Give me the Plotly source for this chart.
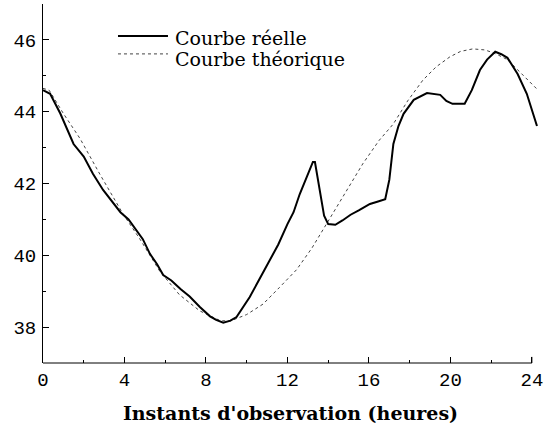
import plotly.graph_objects as go

# Observation times (hours) and measured values
real_hours = [0.0, 0.35, 0.85, 1.2, 1.5, 2.0, 2.45, 2.95, 3.4, 3.8, 4.2, 4.6, 4.9, 5.25,
              5.6, 5.9, 6.3, 6.75, 7.2, 7.7, 8.2, 8.5, 8.85, 9.2, 9.5, 10.15, 10.6, 11.15,
              11.55, 12.0, 12.3, 12.6, 12.95, 13.25, 13.35, 13.6, 13.8, 14.0, 14.35, 14.7,
              15.1, 15.5, 16.05, 16.45, 16.8, 17.0, 17.2, 17.45, 17.7, 18.2, 18.85, 19.5,
              19.8, 20.1, 20.7, 21.05, 21.45, 21.8, 22.2, 22.5, 22.8, 23.3, 23.75, 24.25]
real_values = [44.6, 44.5, 43.95, 43.5, 43.1, 42.75, 42.27, 41.82, 41.5, 41.2, 41.0, 40.7,
               40.45, 40.04, 39.75, 39.45, 39.3, 39.06, 38.85, 38.56, 38.3, 38.2, 38.12,
               38.18, 38.28, 38.84, 39.3, 39.87, 40.3, 40.87, 41.2, 41.7, 42.2, 42.6, 42.6,
               41.7, 41.1, 40.87, 40.85, 40.97, 41.13, 41.25, 41.43, 41.5, 41.56, 42.1, 43.1,
               43.6, 43.94, 44.33, 44.52, 44.47, 44.3, 44.22, 44.22, 44.6, 45.16, 45.45,
               45.67, 45.6, 45.5, 45.05, 44.5, 43.6]

# Theoretical curve
theo_hours = [0.0, 0.3, 1.0, 1.82, 2.8, 3.93, 4.76, 5.74, 6.7, 7.7, 8.7, 9.2, 10.0, 10.8,
              11.6, 12.45, 13.2, 13.9, 14.8, 15.7, 16.5, 17.2, 17.9, 18.65, 19.3, 19.98,
              20.5, 21.1, 21.7, 22.2, 22.8, 23.4, 24.25]
theo_values = [44.65, 44.6, 43.95, 43.25, 42.25, 41.15, 40.45, 39.55, 38.9, 38.45, 38.18,
               38.17, 38.35, 38.64, 39.1, 39.6, 40.2, 40.85, 41.7, 42.55, 43.2, 43.66, 44.3,
               44.88, 45.25, 45.53, 45.68, 45.75, 45.72, 45.62, 45.45, 45.1, 44.63]

x_ticks = [0, 4, 8, 12, 16, 20, 24]
y_ticks = [38, 40, 42, 44, 46]
legend_labels = ["Courbe réelle", "Courbe théorique"]

X_MAX = 24.3

fig = go.Figure()
fig.add_trace(go.Scatter(x=theo_hours, y=theo_values, mode="lines",
                         line=dict(color="#444444", width=1, dash="dot"),
                         name=legend_labels[1], showlegend=False))
fig.add_trace(go.Scatter(x=real_hours, y=real_values, mode="lines",
                         line=dict(color="black", width=2),
                         name=legend_labels[0], showlegend=False))

tick_font = dict(family="Liberation Mono", size=19, color="black")

fig.update_layout(
    width=552, height=441,
    margin=dict(l=43, r=14, t=4, b=78),
    paper_bgcolor="white", plot_bgcolor="white",
    xaxis=dict(range=[0, X_MAX], tickvals=x_ticks, ticks="inside", ticklen=6,
               tickcolor="black", tickfont=tick_font, showgrid=False, zeroline=False,
               showline=False, ticklabelstandoff=3,
               minor=dict(tickvals=[2, 6, 10, 14, 18, 22], ticks="inside", ticklen=3,
                          tickcolor="black", showgrid=False),
               title=dict(text="<b>Instants d'observation (heures)</b>",
                          font=dict(family="DejaVu Serif", size=19, color="black"),
                          standoff=15)),
    yaxis=dict(range=[37, 47], tickvals=y_ticks, ticks="inside", ticklen=6,
               tickcolor="black", tickfont=tick_font, showgrid=False, zeroline=False,
               showline=True, linecolor="black", linewidth=1, ticklabelstandoff=2,
               minor=dict(tickvals=[39, 41, 43, 45], ticks="inside", ticklen=3,
                          tickcolor="black", showgrid=False)),
)

# Bottom axis line from 0 h to 24 h
fig.add_shape(type="line", xref="paper", yref="paper", x0=0, x1=24 / X_MAX, y0=0, y1=0,
              line=dict(color="black", width=1))
fig.add_shape(type="line", xref="paper", yref="paper", x0=24 / X_MAX, x1=24 / X_MAX,
              y0=0, y1=0.017, line=dict(color="black", width=1))

# Legend drawn in plot-area coordinates
sample_y = [0.911, 0.861]
text_y = [0.9053, 0.8468]
legend_styles = [dict(color="black", width=2), dict(color="#444444", width=1, dash="dot")]
for label, sy, ty, style in zip(legend_labels, sample_y, text_y, legend_styles):
    fig.add_shape(type="line", xref="paper", yref="paper", x0=0.1515, x1=0.2525,
                  y0=sy, y1=sy, line=style)
    fig.add_annotation(text=label, xref="paper", yref="paper", x=0.262, y=ty,
                       xanchor="left", yanchor="middle", showarrow=False,
                       font=dict(family="DejaVu Serif", size=19, color="black"))

fig.write_html("out.html")
